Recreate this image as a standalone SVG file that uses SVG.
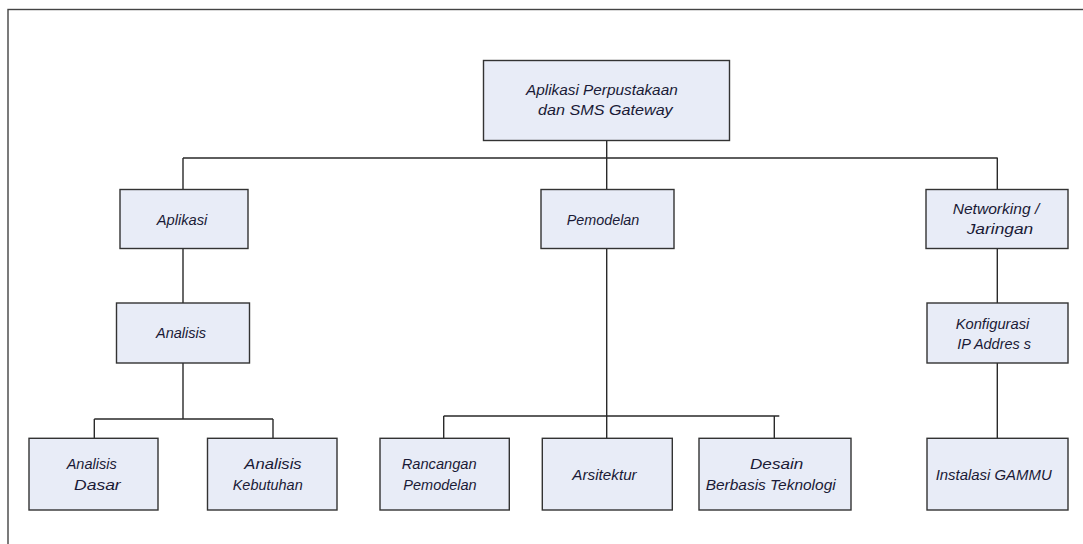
<svg xmlns="http://www.w3.org/2000/svg" width="1083" height="544" viewBox="0 0 1083 544">
<style>
.box{fill:#e8ecf7;stroke:#333;stroke-width:1.4}
.ln{fill:none;stroke:#2a2a2a;stroke-width:1.4}
text{font-family:"Liberation Sans",Arial,sans-serif;font-style:italic;font-size:15px;fill:#1a1a36}
</style>
<rect x="0" y="0" width="1083" height="544" fill="#fff"/>
<rect x="8" y="9.5" width="1100" height="600" fill="none" stroke="#444" stroke-width="1.4"/>
<g id="connectors">
<path class="ln" d="M606.7 140V158 M183 158H997.7 M183 158V189 M606.7 158V189 M997.3 158V189"/>
<path class="ln" d="M183 249V303 M183 363V419 M94.3 419H273 M94.3 419V438 M273 419V438"/>
<path class="ln" d="M606.7 249V438 M443.7 416H779.3 M443.7 416V438 M774.3 416V438"/>
<path class="ln" d="M997.3 249V303 M997.3 363V438"/>
</g>
<g id="root"><rect class="box" x="483.5" y="60.5" width="246" height="80"/>
<text x="526" y="95" textLength="151.7" lengthAdjust="spacingAndGlyphs">Aplikasi  Perpustakaan</text>
<text x="538" y="115" textLength="134.7" lengthAdjust="spacingAndGlyphs">dan  SMS  Gateway</text></g>
<g id="aplikasi"><rect class="box" x="120" y="189.5" width="128" height="59"/>
<text x="156.7" y="225" textLength="50.6" lengthAdjust="spacingAndGlyphs">Aplikasi</text></g>
<g id="pemodelan"><rect class="box" x="541" y="189.5" width="133" height="59"/>
<text x="566.7" y="225" textLength="72.6" lengthAdjust="spacingAndGlyphs">Pemodelan</text></g>
<g id="networking"><rect class="box" x="926" y="189.5" width="142" height="59"/>
<text x="952.7" y="214" textLength="86.6" lengthAdjust="spacingAndGlyphs">Networking  /</text>
<text x="966.7" y="234.3" textLength="66.6" lengthAdjust="spacingAndGlyphs">Jaringan</text></g>
<g id="analisis"><rect class="box" x="116.5" y="303" width="133" height="60"/>
<text x="156" y="337.7" textLength="50" lengthAdjust="spacingAndGlyphs">Analisis</text></g>
<g id="konfigurasi"><rect class="box" x="927" y="303" width="141" height="60"/>
<text x="955.7" y="328.7" textLength="73.6" lengthAdjust="spacingAndGlyphs">Konfigurasi</text>
<text x="957.3" y="349" textLength="73.7" lengthAdjust="spacingAndGlyphs">IP Addres s</text></g>
<g id="analisis-dasar"><rect class="box" x="29" y="438.3" width="129" height="71.7"/>
<text x="66.7" y="469.3" textLength="50" lengthAdjust="spacingAndGlyphs">Analisis</text>
<text x="74" y="490" textLength="46.7" lengthAdjust="spacingAndGlyphs">Dasar</text></g>
<g id="analisis-kebutuhan"><rect class="box" x="207.5" y="438.3" width="129.5" height="71.7"/>
<text x="244.3" y="469.3" textLength="57.4" lengthAdjust="spacingAndGlyphs">Analisis</text>
<text x="232.7" y="490" textLength="70" lengthAdjust="spacingAndGlyphs">Kebutuhan</text></g>
<g id="rancangan"><rect class="box" x="380" y="438.3" width="129.3" height="71.7"/>
<text x="401.7" y="469.3" textLength="75" lengthAdjust="spacingAndGlyphs">Rancangan</text>
<text x="403.3" y="490" textLength="73.4" lengthAdjust="spacingAndGlyphs">Pemodelan</text></g>
<g id="arsitektur"><rect class="box" x="542.3" y="438.3" width="130" height="71.7"/>
<text x="572.3" y="480" textLength="64.4" lengthAdjust="spacingAndGlyphs">Arsitektur</text></g>
<g id="desain"><rect class="box" x="699" y="438.3" width="152" height="71.7"/>
<text x="750" y="469" textLength="53.3" lengthAdjust="spacingAndGlyphs">Desain</text>
<text x="705.7" y="489.5" textLength="130" lengthAdjust="spacingAndGlyphs">Berbasis  Teknologi</text></g>
<g id="gammu"><rect class="box" x="927" y="438.3" width="141" height="71.7"/>
<text x="935.7" y="480" textLength="116" lengthAdjust="spacingAndGlyphs">Instalasi GAMMU</text></g>
</svg>
